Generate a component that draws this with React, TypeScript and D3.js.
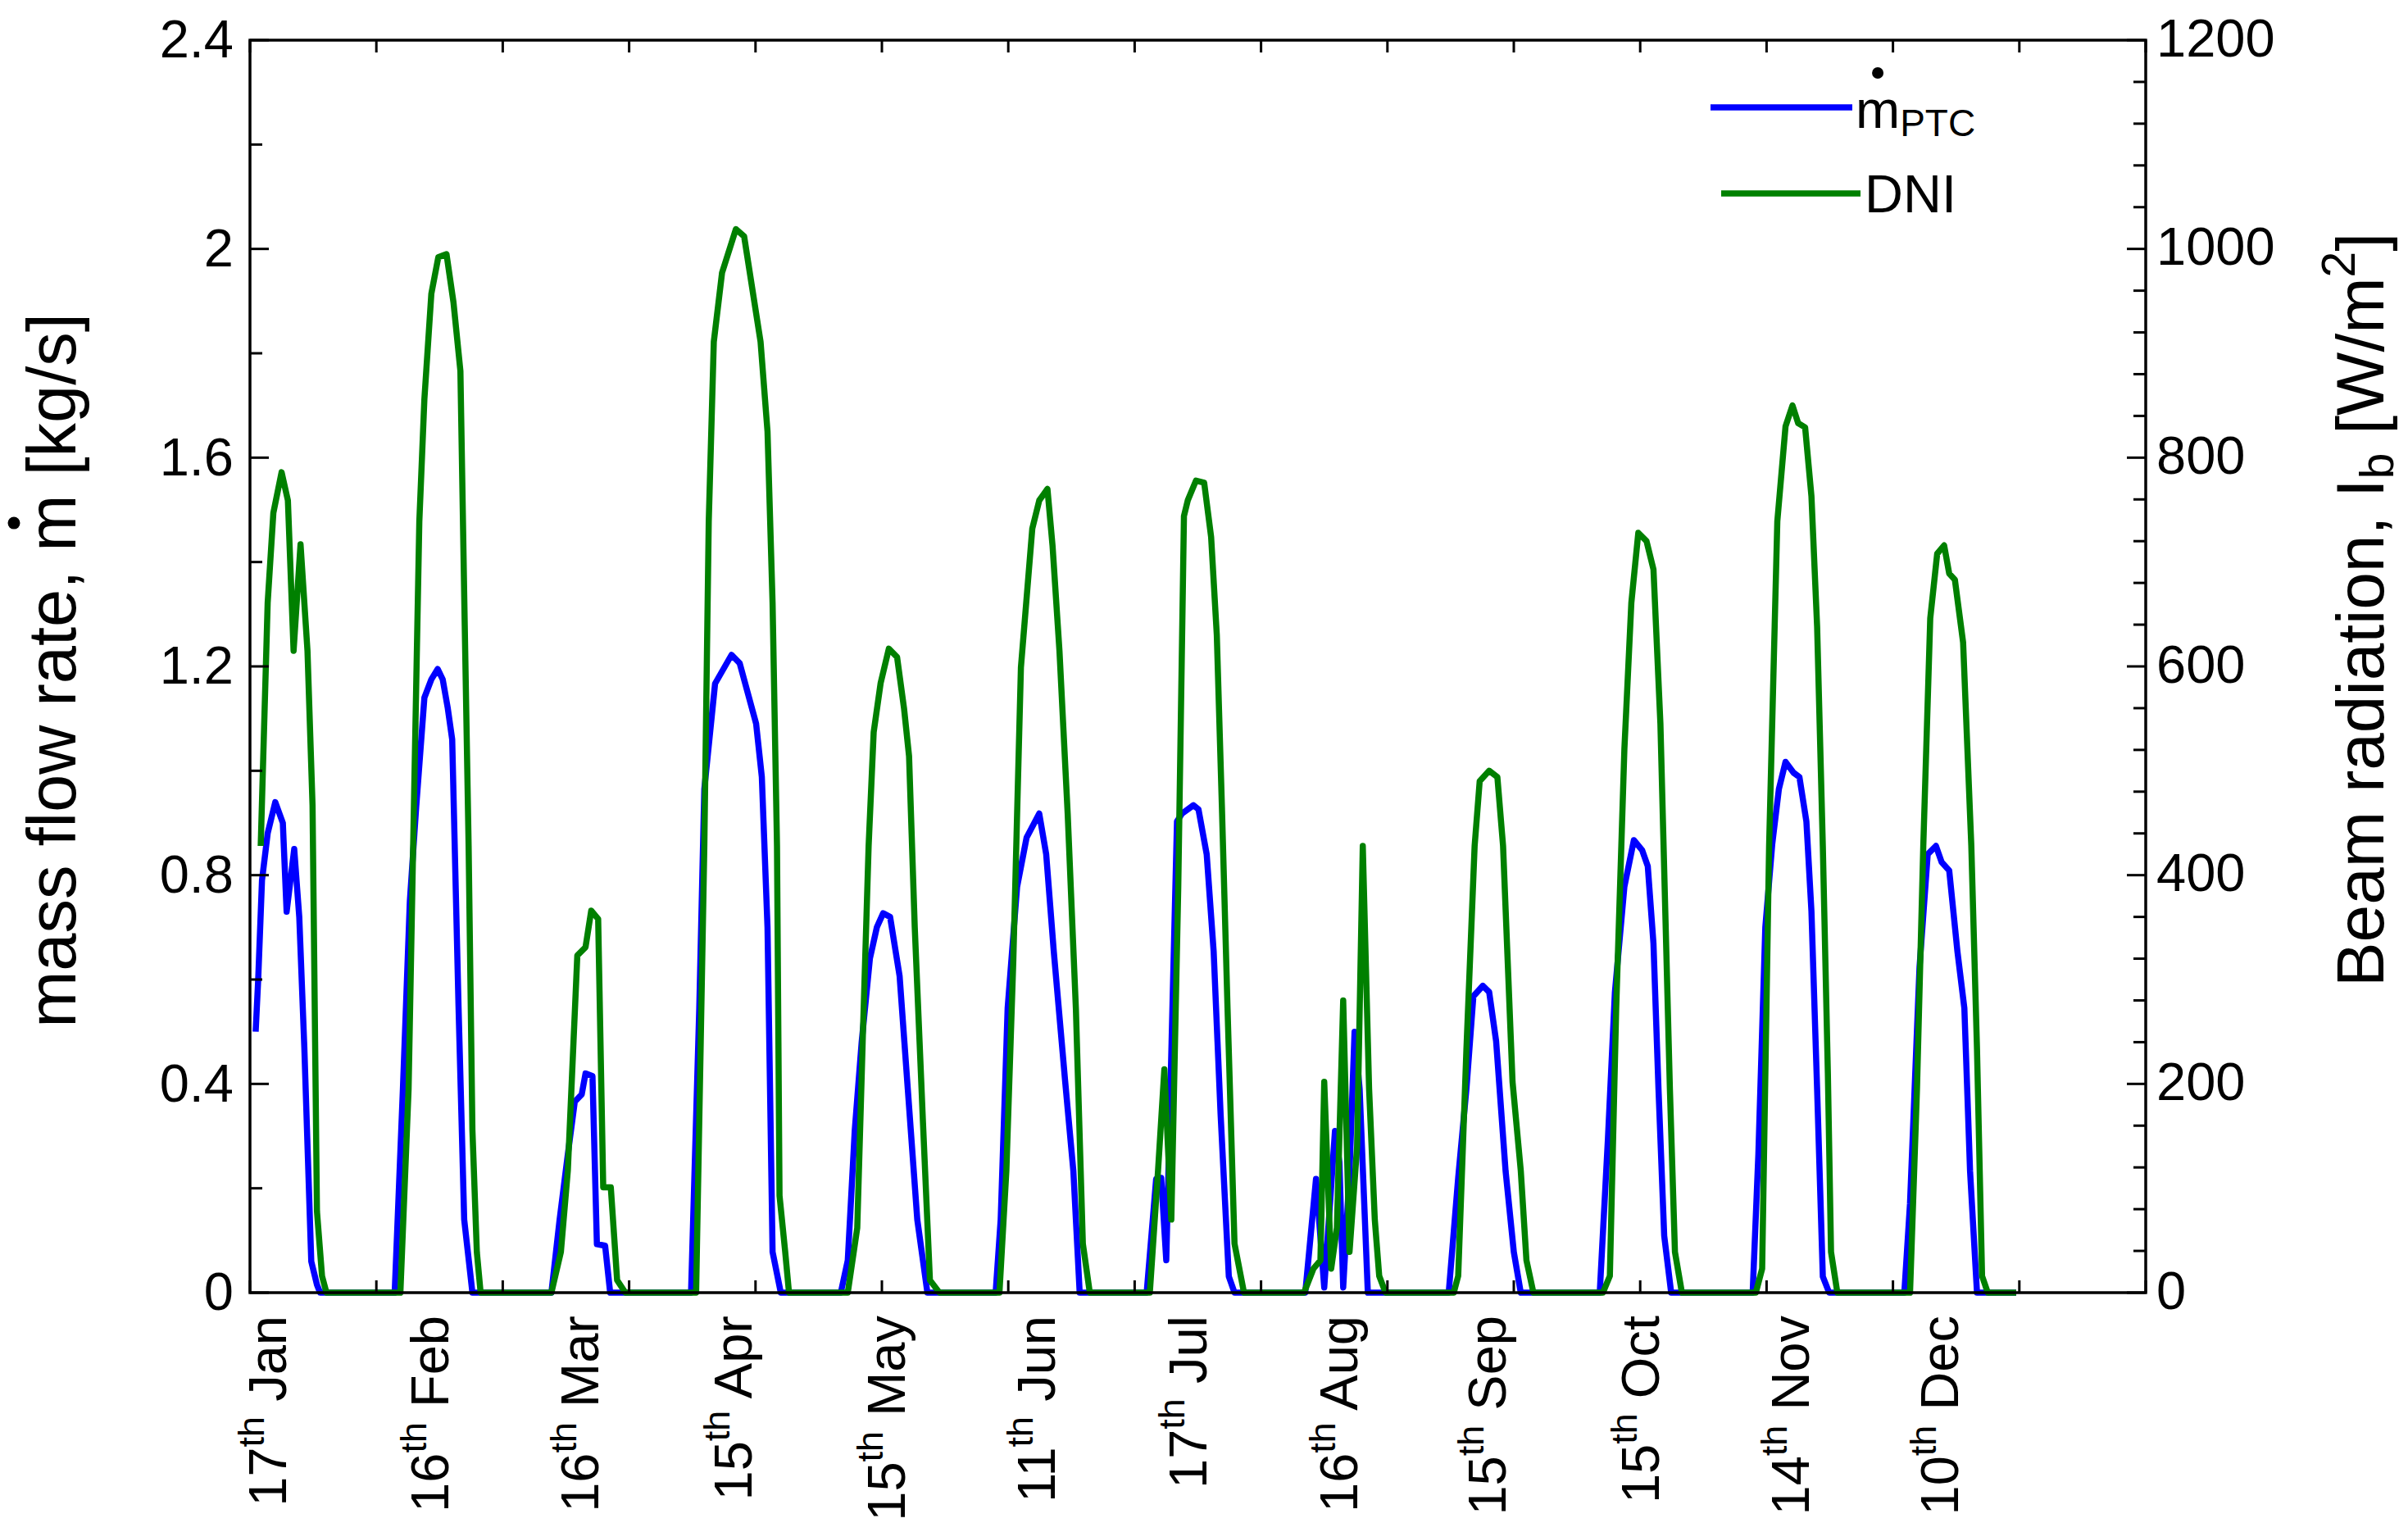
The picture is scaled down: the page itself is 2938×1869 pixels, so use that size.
import { useLayoutEffect, useRef, useState } from 'react'
import * as d3 from 'd3'

const WIDTH = 2938
const HEIGHT = 1869
const LEFT = 305
const RIGHT = 2618
const TOP = 49
const BOTTOM = 1577

const FONT = 'Liberation Sans, Arial, Helvetica, sans-serif'
const BLUE = '#0000ff'
const GREEN = '#008000'
const LINE_W = 7.5

// x is hours elapsed over the twelve representative days
const hourTicks = d3.range(0, 301, 20)
const flowTicks = [0, 0.4, 0.8, 1.2, 1.6, 2, 2.4]
const flowMinor = [0.2, 0.6, 1.0, 1.4, 1.8, 2.2]
const dniTicks = [0, 200, 400, 600, 800, 1000, 1200]
const dniMinor = d3.range(40, 1200, 40).filter((v) => v % 200 !== 0)

const dayNums = ['17', '16', '16', '15', '15', '11', '17', '16', '15', '15', '14', '10']
const months = ['Jan', 'Feb', 'Mar', 'Apr', 'May', 'Jun', 'Jul', 'Aug', 'Sep', 'Oct', 'Nov', 'Dec']
const dayHours = [2.7, 28.4, 52.1, 76.4, 100.7, 124.4, 148.4, 172.2, 195.7, 220.0, 243.7, 267.3]

// mass flow rate of the PTC [kg/s]
const mdot: [number, number][] = [
  [0.9, 0.5], [1.3, 0.6], [1.9, 0.79], [2.8, 0.88], [4.0, 0.94], [5.2, 0.9], [5.8, 0.73], [7.0, 0.85], [7.8, 0.72], [8.6, 0.47], [9.7, 0.06], [10.6, 0.015], [11.1, 0],
  [22.9, 0], [24.2, 0.39], [25.3, 0.75], [26.3, 0.93], [27.6, 1.14], [28.7, 1.175], [29.7, 1.195], [30.5, 1.175], [31.3, 1.12], [32.0, 1.06], [33.0, 0.55], [33.9, 0.14], [35.2, 0],
  [47.7, 0], [49.0, 0.14], [50.3, 0.265], [51.4, 0.366], [52.5, 0.38], [53.1, 0.42], [54.2, 0.415], [54.9, 0.093], [56.2, 0.09], [57.0, 0],
  [69.8, 0], [71.1, 0.545], [71.9, 0.965], [73.6, 1.167], [76.2, 1.222], [77.5, 1.206], [80.1, 1.09], [81.0, 0.988], [81.9, 0.7], [82.7, 0.078], [84.0, 0],
  [93.5, 0], [94.6, 0.062], [95.7, 0.31], [96.8, 0.48], [98.1, 0.64], [99.2, 0.7], [100.2, 0.727], [101.3, 0.72], [102.8, 0.607], [104.1, 0.39], [105.6, 0.14], [107.2, 0],
  [118.0, 0], [118.8, 0.14], [119.9, 0.545], [121.4, 0.778], [122.9, 0.872], [124.9, 0.918], [126.0, 0.84], [127.2, 0.654], [129.0, 0.405], [130.3, 0.233], [131.3, 0],
  [141.9, 0], [143.4, 0.218], [144.2, 0.22], [145.0, 0.062], [146.7, 0.903], [147.5, 0.918], [149.3, 0.934], [150.1, 0.926], [151.4, 0.84], [152.5, 0.654], [153.6, 0.342], [154.9, 0.031], [155.8, 0],
  [167.0, 0], [168.7, 0.218], [170.0, 0.01], [171.7, 0.31], [172.4, 0.25], [173.0, 0.01], [174.0, 0.23], [174.8, 0.5], [175.6, 0.39], [176.9, 0],
  [189.7, 0], [191.2, 0.22], [192.5, 0.39], [193.6, 0.568], [195.1, 0.588], [196.1, 0.576], [197.2, 0.482], [198.7, 0.233], [200.0, 0.078], [201.1, 0],
  [213.6, 0], [214.9, 0.296], [216.0, 0.576], [217.5, 0.778], [219.0, 0.867], [220.3, 0.848], [221.2, 0.817], [222.1, 0.669], [222.9, 0.389], [223.8, 0.109], [224.9, 0],
  [237.8, 0], [238.7, 0.265], [239.8, 0.7], [240.9, 0.86], [241.95, 0.965], [243.0, 1.017], [244.3, 0.996], [245.2, 0.988], [246.3, 0.903], [247.1, 0.731], [248.0, 0.389], [248.9, 0.031], [249.9, 0],
  [261.8, 0], [262.7, 0.171], [264.2, 0.623], [265.5, 0.84], [266.8, 0.856], [267.7, 0.825], [268.9, 0.809], [270.2, 0.654], [271.3, 0.545], [272.2, 0.233], [273.3, 0], [279.5, 0],
]

// direct normal irradiance [W/m2]
const dni: [number, number][] = [
  [1.7, 428], [2.8, 661], [3.7, 747], [5.0, 786], [6.0, 759], [6.9, 615], [8.0, 717], [9.1, 615], [9.9, 467], [10.6, 78], [11.4, 16], [12.1, 0],
  [23.8, 0], [25.1, 195], [25.7, 389], [26.8, 739], [27.6, 856], [28.7, 957], [29.8, 992], [31.1, 995], [32.2, 949], [33.3, 883], [33.9, 669], [34.6, 428], [35.2, 156], [35.9, 39], [36.5, 0],
  [47.7, 0], [49.2, 39], [50.3, 117], [51.8, 323], [53.1, 331], [54.0, 366], [55.1, 358], [55.9, 101], [57.1, 101], [58.1, 12], [59.4, 0],
  [70.6, 0], [71.9, 428], [72.6, 739], [73.4, 911], [74.7, 977], [76.9, 1019], [78.2, 1012], [80.8, 911], [81.9, 825], [82.7, 661], [83.4, 428], [83.8, 93], [84.7, 39], [85.3, 0],
  [94.6, 0], [96.1, 62], [97.0, 249], [97.9, 428], [98.7, 537], [99.8, 584], [101.1, 617], [102.4, 609], [103.5, 560], [104.3, 514], [105.2, 350], [106.5, 163], [107.6, 12], [109.1, 0],
  [118.6, 0], [119.7, 117], [120.8, 319], [122.0, 599], [123.8, 732], [124.9, 759], [126.2, 770], [127.0, 716], [128.1, 615], [129.4, 459], [130.7, 272], [131.8, 47], [132.9, 0],
  [142.4, 0], [143.7, 117], [144.7, 214], [145.8, 70], [146.9, 389], [147.8, 744], [148.4, 759], [149.7, 778], [151.0, 776], [152.1, 724], [153.0, 630], [153.8, 467], [154.7, 272], [155.8, 47], [157.3, 0],
  [166.8, 0], [168.3, 23], [169.4, 31], [170.0, 202], [171.1, 23], [172.0, 62], [173.0, 280], [174.0, 39], [175.2, 140], [176.1, 428], [177.1, 195], [178.0, 70], [178.7, 16], [179.7, 0],
  [190.5, 0], [191.2, 16], [192.5, 233], [193.8, 428], [194.6, 490], [196.1, 500], [197.4, 494], [198.3, 428], [199.8, 202], [201.1, 117], [202.0, 31], [203.1, 0],
  [214.1, 0], [215.2, 16], [216.2, 272], [217.5, 521], [218.6, 661], [219.7, 728], [221.0, 720], [222.1, 693], [223.2, 545], [224.7, 195], [225.5, 39], [226.6, 0],
  [238.3, 0], [239.3, 23], [240.4, 428], [241.7, 739], [243.0, 830], [244.1, 850], [245.0, 833], [246.1, 829], [247.1, 763], [248.0, 638], [248.9, 428], [249.7, 210], [250.2, 39], [251.2, 0],
  [262.7, 0], [263.8, 195], [264.8, 428], [265.9, 646], [267.0, 708], [268.1, 716], [268.9, 689], [269.8, 683], [271.1, 623], [272.4, 428], [273.3, 233], [274.1, 16], [275.0, 0], [279.5, 0],
]

const LEFT_TITLE = 'mass flow rate, m [kg/s]'
const MDOT_INDEX = LEFT_TITLE.indexOf(' m ') + 1

export default function App() {
  const x = d3.scaleLinear().domain([0, 300]).range([LEFT, RIGHT])
  const yFlow = d3.scaleLinear().domain([0, 2.4]).range([BOTTOM, TOP])
  const yDni = d3.scaleLinear().domain([0, 1200]).range([BOTTOM, TOP])

  const flowLine = d3
    .line<[number, number]>()
    .x((d) => x(d[0]))
    .y((d) => yFlow(d[1]))
  const dniLine = d3
    .line<[number, number]>()
    .x((d) => x(d[0]))
    .y((d) => yDni(d[1]))

  const titleRef = useRef<SVGTextElement>(null)
  const legendRef = useRef<SVGTextElement>(null)
  const [dots, setDots] = useState({ title: 0, legend: 0 })

  useLayoutEffect(() => {
    const t = titleRef.current
    const l = legendRef.current
    if (!t || !l) return
    const a = t.getExtentOfChar(MDOT_INDEX)
    const b = l.getExtentOfChar(0)
    setDots({ title: a.x + a.width / 2, legend: b.x + b.width / 2 })
  }, [])

  return (
    <svg
      width={WIDTH}
      height={HEIGHT}
      viewBox={`0 0 ${WIDTH} ${HEIGHT}`}
      style={{ position: 'absolute', left: 0, top: 0, background: '#fff' }}
      fontFamily={FONT}
    >
      <path d={flowLine(mdot) ?? ''} fill="none" stroke={BLUE} strokeWidth={LINE_W} strokeLinejoin="round" />
      <path d={dniLine(dni) ?? ''} fill="none" stroke={GREEN} strokeWidth={LINE_W} strokeLinejoin="round" />

      {/* frame and ticks */}
      <rect x={LEFT} y={TOP} width={RIGHT - LEFT} height={BOTTOM - TOP} fill="none" stroke="#000" strokeWidth={3.5} />
      <g stroke="#000" strokeWidth={3}>
        {hourTicks.map((h) => (
          <g key={h}>
            <line x1={x(h)} x2={x(h)} y1={TOP} y2={TOP + 15} />
            <line x1={x(h)} x2={x(h)} y1={BOTTOM} y2={BOTTOM - 15} />
          </g>
        ))}
        {flowTicks.map((v) => (
          <line key={v} x1={LEFT} x2={LEFT + 23} y1={yFlow(v)} y2={yFlow(v)} />
        ))}
        {flowMinor.map((v) => (
          <line key={v} x1={LEFT} x2={LEFT + 15} y1={yFlow(v)} y2={yFlow(v)} />
        ))}
        {dniTicks.map((v) => (
          <line key={v} x1={RIGHT} x2={RIGHT - 23} y1={yDni(v)} y2={yDni(v)} />
        ))}
        {dniMinor.map((v) => (
          <line key={v} x1={RIGHT} x2={RIGHT - 15} y1={yDni(v)} y2={yDni(v)} />
        ))}
      </g>

      {/* tick labels */}
      <g fontSize={65} fill="#000">
        {flowTicks.map((v) => (
          <text key={v} x={LEFT - 20} y={yFlow(v)} dy="0.33em" textAnchor="end">
            {String(+v.toFixed(1))}
          </text>
        ))}
        {dniTicks.map((v) => (
          <text key={v} x={RIGHT + 13} y={yDni(v)} dy="0.3em" textAnchor="start">
            {v}
          </text>
        ))}
        {months.map((m, i) => (
          <text
            key={m}
            transform={`translate(${x(dayHours[i]) + 23}, ${BOTTOM + 28}) rotate(-90)`}
            textAnchor="end"
          >
            {dayNums[i]}
            <tspan fontSize={45} dy={-27}>
              th
            </tspan>
            <tspan dy={27}>{' ' + m}</tspan>
          </text>
        ))}
      </g>

      {/* axis titles */}
      <g transform="translate(92, 818) rotate(-90)">
        <text ref={titleRef} x={0} y={0} fontSize={83} textAnchor="middle">
          {LEFT_TITLE}
        </text>
        <circle cx={dots.title} cy={-75} r={7.5} fill="#000" />
      </g>
      <g transform="translate(2908, 744) rotate(-90)">
        <text x={0} y={0} fontSize={82} textAnchor="middle">
          Beam radiation, I
          <tspan fontSize={57} dy={12}>
            b
          </tspan>
          <tspan dy={-12}> [W/m</tspan>
          <tspan fontSize={57} dy={-35}>
            2
          </tspan>
          <tspan dy={35}>]</tspan>
        </text>
      </g>

      {/* legend */}
      <line x1={2087} x2={2260} y1={131} y2={131} stroke={BLUE} strokeWidth={LINE_W} />
      <text ref={legendRef} x={2264} y={156} fontSize={65}>
        m
        <tspan fontSize={46} dy={10}>
          PTC
        </tspan>
      </text>
      <circle cx={dots.legend} cy={89} r={7} fill="#000" />
      <line x1={2100} x2={2270} y1={236} y2={236} stroke={GREEN} strokeWidth={LINE_W} />
      <text x={2275} y={259} fontSize={65}>
        DNI
      </text>
    </svg>
  )
}
